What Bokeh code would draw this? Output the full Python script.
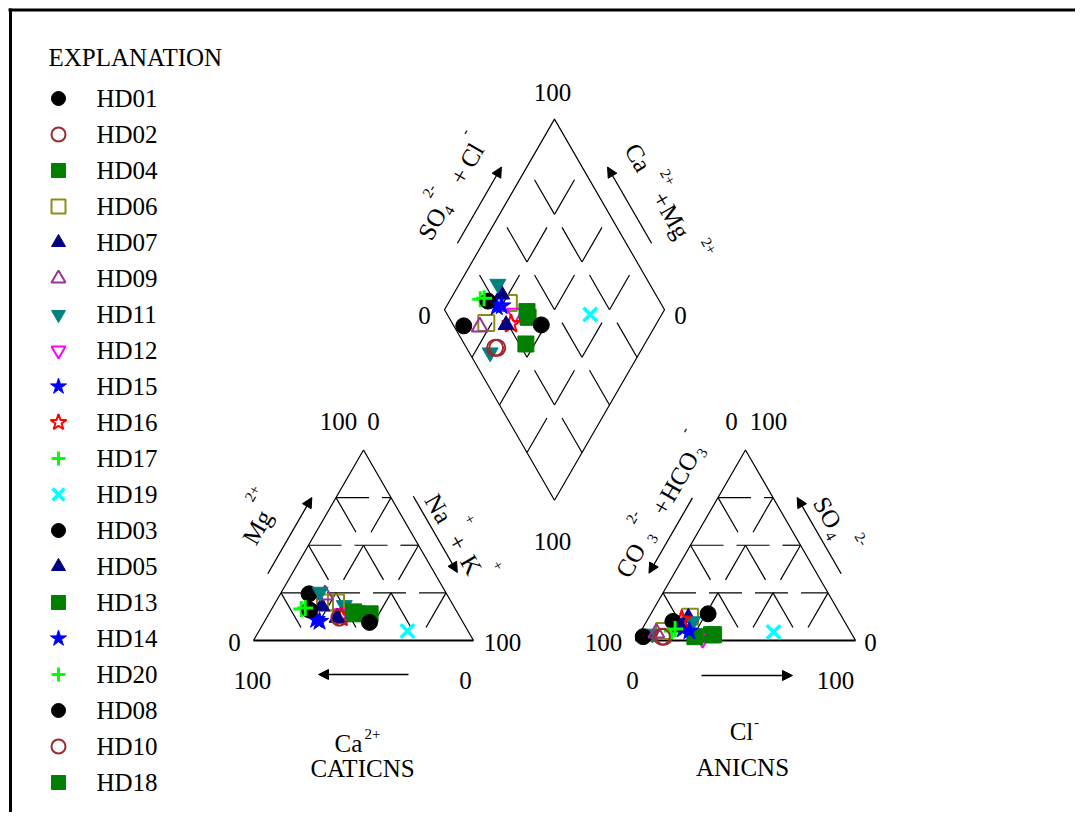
import math
from bokeh.plotting import figure
from bokeh.models import Range1d, Arrow, NormalHead
from bokeh.core.properties import value
from bokeh.embed import file_html
from bokeh.resources import INLINE

# ---------------- data (percent of meq/L) ----------------
samples  = ["HD01", "HD02", "HD04", "HD06", "HD07", "HD09", "HD11", "HD12", "HD15", "HD16",
            "HD17", "HD19", "HD03", "HD05", "HD13", "HD14", "HD20", "HD08", "HD10", "HD18"]
ca_pct   = [62.5, 53, 46, 52.5, 60, 55.5, 57, 53, 66, 54, 70, 27.5, 66.5, 56, 40, 65, 68, 42.5, 55, 47]
mg_pct   = [24.5, 13, 14, 20, 18, 24, 25.5, 14, 11, 12, 16.5, 5, 16, 12, 14, 10, 17, 9.5, 12, 15]
nak_pct  = [13, 34, 40, 27.5, 22, 20.5, 17.5, 33, 23, 34, 13.5, 67.5, 17.5, 32, 46, 25, 15, 48, 33, 38]
hco3_pct = [95.5, 86, 64, 69, 70, 88.5, 69, 69, 75.5, 73.5, 81, 35, 78, 76, 72, 73, 79, 60, 87, 63]
so4_pct  = [2, 2, 3, 12.5, 12, 4, 10, 1, 6, 11, 5, 4.5, 10, 7, 2, 5, 6, 14, 2, 3]
cl_pct   = [2.5, 12, 33, 18.5, 18, 7.5, 21, 30, 18.5, 15.5, 14, 60.5, 12, 17, 26, 22, 15, 26, 11, 34]

# points plotted whose legend entries fall below the visible page
extra_symbol = ["HD06", "HD11"]          # drawn with the same symbol as these samples
extra_ca   = [57.5, 49.5]
extra_mg   = [20, 18.5]
extra_nak  = [22.5, 32]
extra_hco3 = [84.5, 90.5]
extra_so4  = [5, 3.5]
extra_cl   = [10.5, 6]

# ---------------- styles ----------------
FONT = "Liberation Serif"
FS = 25
STYLE = {
    "HD01": ("circle", "#000000", True), "HD03": ("circle", "#000000", True), "HD08": ("circle", "#000000", True),
    "HD02": ("circle", "#9B2C2C", False), "HD10": ("circle", "#9B2C2C", False),
    "HD04": ("square", "#007F00", True), "HD13": ("square", "#007F00", True), "HD18": ("square", "#007F00", True),
    "HD06": ("square", "#8C8C1A", False),
    "HD07": ("triangle", "#000080", True), "HD05": ("triangle", "#000080", True),
    "HD09": ("triangle", "#993399", False),
    "HD11": ("inverted_triangle", "#008080", True),
    "HD12": ("inverted_triangle", "#FF00FF", False),
    "HD15": ("star", "#0000FF", True), "HD14": ("star", "#0000FF", True),
    "HD16": ("star", "#FF0000", False),
    "HD17": ("cross", "#00FF00", True), "HD20": ("cross", "#00FF00", True),
    "HD19": ("x", "#00FFFF", True),
}
SIZE_SCALE = {"star": 1.2, "x": 1.2, "cross": 1.0}

# ---------------- geometry (1 data unit = 1 screen px, y up) ----------------
PAGE_H = 828
def py(y):  # picture y -> data y
    return PAGE_H - y

SIDE = 220.0
H = SIDE * math.sqrt(3) / 2
BASE_Y = py(640)
CAT_X0 = 253.0
AN_X0 = 635.0
GAP = AN_X0 - (CAT_X0 + SIDE)
DX = CAT_X0 + SIDE + GAP / 2
DY = BASE_Y + GAP / 2 * math.sqrt(3)

def cation_xy(mg, nak):
    return CAT_X0 + SIDE * (nak + mg / 2) / 100, BASE_Y + H * mg / 100

def anion_xy(so4, cl):
    return AN_X0 + SIDE * (cl + so4 / 2) / 100, BASE_Y + H * so4 / 100

def diamond_xy(ca, mg, so4, cl):
    s = so4 + cl
    c = ca + mg
    return DX + SIDE / 2 * (s - c) / 100, DY + H * (s + c) / 100

p = figure(width=1075, height=812, x_range=Range1d(0, 1075), y_range=Range1d(16, 828),
           output_backend="svg", toolbar_location=None, min_border=0)
p.axis.visible = False
p.grid.visible = False
p.outline_line_color = None
p.background_fill_color = "white"
p.border_fill_color = "white"

# page border (top and left)
p.line([8, 1075], [py(9.5), py(9.5)], line_color="black", line_width=3)
p.line([10, 10], [py(8), py(828)], line_color="black", line_width=3)

LW = 1.2

def pieces(P, d, length, on, period):
    xs, ys = [], []
    t = 0.0
    while t < length - 0.5:
        t1 = min(t + on, length)
        xs.append([P[0] + d[0] * t, P[0] + d[0] * t1])
        ys.append([P[1] + d[1] * t, P[1] + d[1] * t1])
        t += period
    return xs, ys

def add_segs(all_xs, all_ys, res):
    all_xs.extend(res[0]); all_ys.extend(res[1])

c60, s60 = 0.5, math.sqrt(3) / 2
gx, gy = [], []

for x0 in (CAT_X0, AN_X0):
    BL = (x0, BASE_Y); BR = (x0 + SIDE, BASE_Y); T = (x0 + SIDE / 2, BASE_Y + H)
    p.line([BL[0], T[0], BR[0]], [BL[1], T[1], BR[1]], line_color="black", line_width=LW)
    p.line([BL[0], BR[0]], [BL[1], BR[1]], line_color="black", line_width=2)
    for k in (0.25, 0.5, 0.75):
        L = (x0 + k * SIDE / 2, BASE_Y + k * H)
        add_segs(gx, gy, pieces(L, (1, 0), SIDE * (1 - k), 33, 46))
        add_segs(gx, gy, pieces(L, (c60, -s60), SIDE * k, 40, 55))
        R = (x0 + SIDE - k * SIDE / 2, BASE_Y + k * H)
        add_segs(gx, gy, pieces(R, (-c60, -s60), SIDE * k, 40, 55))

# diamond
Bot = (DX, DY)
Lv = (DX - SIDE / 2, DY + H); Rv = (DX + SIDE / 2, DY + H); Top = (DX, DY + 2 * H)
p.line([Bot[0], Lv[0], Top[0], Rv[0], Bot[0]], [Bot[1], Lv[1], Top[1], Rv[1], Bot[1]],
       line_color="black", line_width=LW)
for k in (0.25, 0.5, 0.75):
    Pr = (DX + k * SIDE * c60, DY + k * SIDE * s60)
    add_segs(gx, gy, pieces(Pr, (-c60, s60), SIDE, 40, 55))
    Pl = (DX - k * SIDE * c60, DY + k * SIDE * s60)
    add_segs(gx, gy, pieces(Pl, (c60, s60), SIDE, 40, 55))

p.multi_line(gx, gy, line_color="black", line_width=LW)

# ---------------- arrows ----------------
def side_arrow(P, d, n, a0, a1, off):
    xs = P[0] + d[0] * a0 + n[0] * off; ys = P[1] + d[1] * a0 + n[1] * off
    xe = P[0] + d[0] * a1 + n[0] * off; ye = P[1] + d[1] * a1 + n[1] * off
    p.add_layout(Arrow(end=NormalHead(size=10, fill_color="black", line_color="black"),
                       x_start=xs, y_start=ys, x_end=xe, y_end=ye,
                       line_color="black", line_width=1.3))

side_arrow((CAT_X0, BASE_Y), (c60, s60), (-s60, c60), 65, 153, 21)
side_arrow((CAT_X0 + SIDE / 2, BASE_Y + H), (c60, -s60), (s60, c60), 65, 153, 20)
side_arrow((CAT_X0, BASE_Y), (1, 0), (0, -1), 155, 65, 34)
side_arrow((AN_X0, BASE_Y), (c60, s60), (-s60, c60), 152, 65, 22)
side_arrow((AN_X0 + SIDE, BASE_Y), (-c60, s60), (s60, c60), 65, 153, 21)
side_arrow((AN_X0, BASE_Y), (1, 0), (0, -1), 66, 157, 35)
side_arrow(Lv, (c60, s60), (-s60, c60), 64, 152, 22)
side_arrow(Rv, (-c60, s60), (s60, c60), 64, 152, 22)

# ---------------- texts ----------------
def txt(x_page, y_page, s, size=FS, align="center", angle=0.0):
    p.text(x=[x_page], y=[py(y_page)], text=[s], angle=angle, text_font=value(FONT),
           text_font_size=f"{size}px", text_align=align, text_baseline="middle",
           text_color="black")

def rich(anchor, ang_deg, parts):
    a = math.radians(ang_deg)
    dx, dy = math.cos(a), math.sin(a)
    ux, uy = -math.sin(a), math.cos(a)
    ax, ay = anchor[0], py(anchor[1])
    for s, size, along, up in parts:
        x = ax + along * dx + up * ux
        y = ay + along * dy + up * uy
        p.text(x=[x], y=[y], text=[s], angle=a, text_font=value(FONT),
               text_font_size=f"{size}px", text_align="center", text_baseline="middle",
               text_color="black")

for (xx, yy, s) in [(552, 92, "100"), (424, 315, "0"), (680, 315, "0"), (552, 541, "100"),
                    (338, 421, "100"), (373, 421, "0"), (234, 642, "0"), (502, 642, "100"),
                    (252, 680, "100"), (465, 680, "0"),
                    (731, 421, "0"), (768, 421, "100"), (603, 642, "100"), (870, 642, "0"),
                    (632, 680, "0"), (835, 680, "100")]:
    txt(xx, yy, s)

rich((431.7, 223.3), 60, [("SO", FS, 0, 0), ("4", 15, 20, -8), ("2-", 15, 27, 19),
                          ("+", FS, 55, 0), ("Cl", FS, 79, 0), ("-", 15, 96, 18)])
rich((637.5, 157), -60, [("Ca", FS, 0, 0), ("2+", 15, 32, 16), ("+", FS, 48.5, 0),
                         ("Mg", FS, 74, 0), ("2+", 15, 112, 17)])
rich((256.7, 526.7), 60, [("Mg", FS, 0, 0), ("2+", 15, 27, 21)])
rich((438, 508), -60, [("Na", FS, 0, 0), ("+", 15, 25, 22), ("+", FS, 39, 0),
                       ("K", FS, 65, 0), ("+", 15, 79, 23)])
rich((630, 560), 60, [("CO", FS, 0, 0), ("3", 15, 30, -8), ("2-", 15, 39, 20),
                      ("+", FS, 62, 0), ("HCO", FS, 97, 0), ("3", 15, 129, -8), ("-", 15, 140, 19)])
rich((827, 512), -60, [("SO", FS, 0, 0), ("4", 15, 22, -9), ("2-", 15, 40, 16)])

txt(348, 743, "Ca"); txt(372, 733, "2+", size=15)
txt(362, 768, "CATICNS")
txt(741, 731, "Cl"); txt(756, 721, "-", size=15)
txt(742, 767, "ANICNS")

txt(48, 57, "EXPLANATION", align="left")

def draw_marker(xs, ys, name, size):
    m, col, filled = STYLE[name]
    lw = 3.5 if m == "x" else (3 if m == "cross" else (1 if filled else 2))
    p.scatter(xs, ys, marker=m, size=size * SIZE_SCALE.get(m, 1.0), line_color=col, line_width=lw,
              fill_color=col if filled else None)

for i, name in enumerate(samples):
    yy = 98 + 36 * i
    draw_marker([58], [py(yy)], name, 14)
    txt(96, yy, name, align="left")

# ---------------- data points ----------------
for i, name in enumerate(extra_symbol):
    cx, cy = cation_xy(extra_mg[i], extra_nak[i])
    axx, ayy = anion_xy(extra_so4[i], extra_cl[i])
    dxx, dyy = diamond_xy(extra_ca[i], extra_mg[i], extra_so4[i], extra_cl[i])
    draw_marker([cx, axx, dxx], [cy, ayy, dyy], name, 16)

for i, name in enumerate(samples):
    cx, cy = cation_xy(mg_pct[i], nak_pct[i])
    axx, ayy = anion_xy(so4_pct[i], cl_pct[i])
    dxx, dyy = diamond_xy(ca_pct[i], mg_pct[i], so4_pct[i], cl_pct[i])
    draw_marker([cx, axx, dxx], [cy, ayy, dyy], name, 16)

open("out.html", "w").write(file_html(p, INLINE))
